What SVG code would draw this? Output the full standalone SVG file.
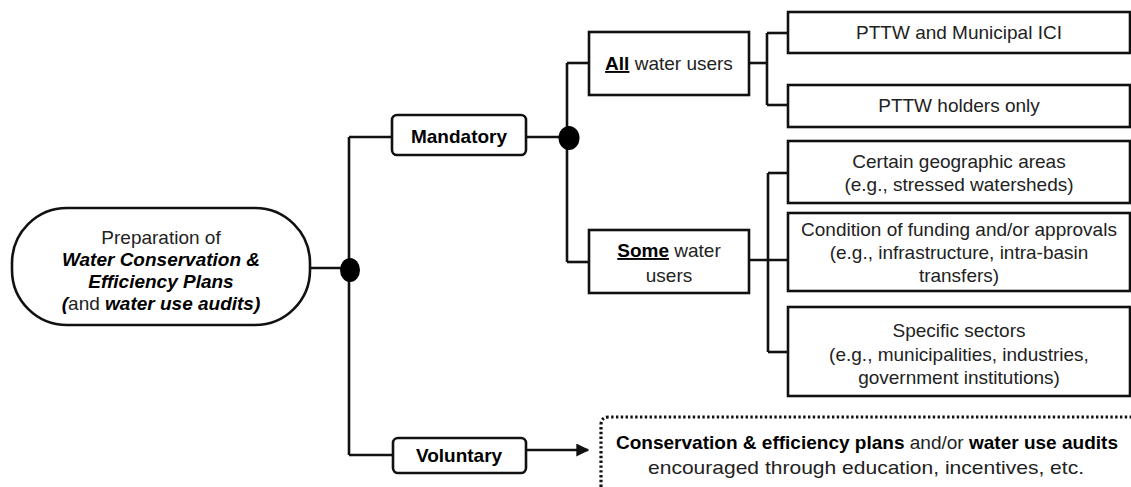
<svg xmlns="http://www.w3.org/2000/svg" width="1131" height="487" viewBox="0 0 1131 487">
<defs>
<style>
.box{fill:#fff;stroke:#111;stroke-width:2.6}
.ln{fill:none;stroke:#111;stroke-width:2.6}
.t{font-family:"Liberation Sans",Arial,sans-serif;font-size:19px;fill:#222;text-anchor:middle}
.b{font-weight:bold;fill:#000}
.bi{font-weight:bold;font-style:italic;fill:#000}
.u{text-decoration:underline}
</style>
<marker id="arr" viewBox="0 0 10 10" refX="9" refY="5" markerWidth="5" markerHeight="5" orient="auto" markerUnits="strokeWidth">
<path d="M0,0 L10,5 L0,10 z" fill="#111"/>
</marker>
</defs>
<rect width="1131" height="487" fill="#fff"/>
<g id="connectors">
<path class="ln" d="M310,268 H350"/>
<path class="ln" d="M349,137 V455"/>
<path class="ln" d="M349,137 H392"/>
<path class="ln" d="M349,455 H393"/>
<path class="ln" d="M526,137 H569"/>
<path class="ln" d="M567,63 V262"/>
<path class="ln" d="M567,63 H589"/>
<path class="ln" d="M567,262 H589"/>
<path class="ln" d="M749,63 H767"/>
<path class="ln" d="M767,33 V105"/>
<path class="ln" d="M767,33 H788"/>
<path class="ln" d="M767,105 H788"/>
<path class="ln" d="M749,260 H788"/>
<path class="ln" d="M768,173 V352"/>
<path class="ln" d="M768,173 H788"/>
<path class="ln" d="M768,352 H788"/>
<path class="ln" d="M526,450 H588" marker-end="url(#arr)"/>
<ellipse cx="350" cy="270" rx="10" ry="12" fill="#000"/>
<ellipse cx="569" cy="138" rx="10.5" ry="12" fill="#000"/>
</g>
<g id="root">
<rect class="box" x="12" y="208" width="298" height="117" rx="55" ry="55"/>
<text class="t" x="161" y="244">Preparation of</text>
<text class="t bi" x="161" y="266">Water Conservation &amp;</text>
<text class="t bi" x="161" y="288">Efficiency Plans</text>
<text class="t" x="161" y="310"><tspan class="bi">(</tspan>and <tspan class="bi">water use audits)</tspan></text>
</g>
<g id="mandatory">
<rect class="box" x="392" y="115" width="134" height="40" rx="5"/>
<text class="t b" x="459" y="143" font-size="17">Mandatory</text>
</g>
<g id="voluntary">
<rect class="box" x="393" y="438" width="133" height="35" rx="5"/>
<text class="t b" x="459" y="462" font-size="17">Voluntary</text>
</g>
<g id="all-users">
<rect class="box" x="589" y="32" width="160" height="63"/>
<text class="t" x="669" y="70"><tspan class="b u">All</tspan> water users</text>
</g>
<g id="some-users">
<rect class="box" x="589" y="230" width="160" height="63"/>
<text class="t" x="669" y="257"><tspan class="b u">Some</tspan> water</text>
<text class="t" x="669" y="282">users</text>
</g>
<g id="pttw-municipal">
<rect class="box" x="788" y="12" width="342" height="41"/>
<text class="t" x="959" y="39">PTTW and Municipal ICI</text>
</g>
<g id="pttw-holders">
<rect class="box" x="788" y="85" width="342" height="42"/>
<text class="t" x="959" y="112">PTTW holders only</text>
</g>
<g id="geographic">
<rect class="box" x="788" y="141" width="342" height="62"/>
<text class="t" x="959" y="168">Certain geographic areas</text>
<text class="t" x="959" y="191">(e.g., stressed watersheds)</text>
</g>
<g id="funding">
<rect class="box" x="788" y="213" width="342" height="78"/>
<text class="t" x="959" y="236">Condition of funding and/or approvals</text>
<text class="t" x="959" y="259">(e.g., infrastructure, intra-basin</text>
<text class="t" x="959" y="282">transfers)</text>
</g>
<g id="sectors">
<rect class="box" x="788" y="307" width="342" height="89"/>
<text class="t" x="959" y="337">Specific sectors</text>
<text class="t" x="959" y="361">(e.g., municipalities, industries,</text>
<text class="t" x="959" y="384">government institutions)</text>
</g>
<g id="voluntary-note">
<path d="M601,487 V425 Q601,417 609,417 H1131" fill="none" stroke="#111" stroke-width="3.2" stroke-dasharray="2.4 2.4"/>
<text class="t" x="867" y="449" font-size="18" textLength="502" lengthAdjust="spacingAndGlyphs"><tspan class="b">Conservation &amp; efficiency plans</tspan> and/or <tspan class="b">water use audits</tspan></text>
<text class="t" x="866" y="474" font-size="18" textLength="436" lengthAdjust="spacingAndGlyphs">encouraged through education, incentives, etc.</text>
</g>
</svg>
